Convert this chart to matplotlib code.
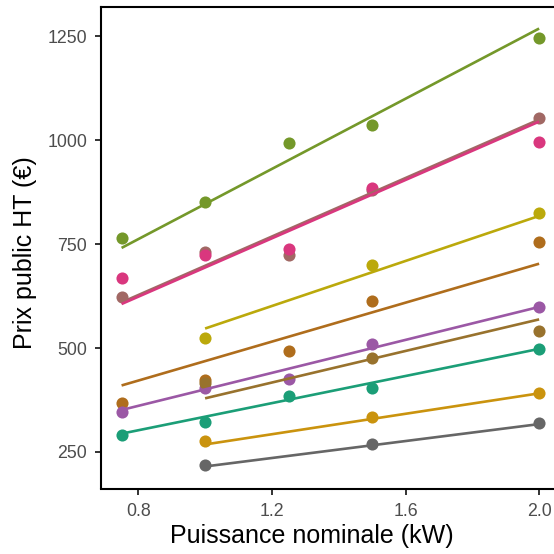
import matplotlib
matplotlib.use("Agg")
import matplotlib.pyplot as plt

plt.rcParams['font.family'] = ['Liberation Sans', 'DejaVu Sans']

# ---- data ----
series_names = ["S1", "S2", "S3", "S4", "S5", "S6", "S7", "S8", "S9", "S10"]
colors = ['#1B9E77', '#AF6D1C', '#A16864', '#9B58A5', '#D9377E',
          '#74982A', '#BBA90B', '#CA930E', '#98722D', '#666666']

x_full = [0.75, 1.0, 1.25, 1.5, 2.0]
x_short = [1.0, 1.5, 2.0]

s1_y = [291, 323, 384, 405, 497]
s2_y = [368, 422, 493, 614, 755]
s3_y = [624, 731, 723, 880, 1054]
s4_y = [345, 405, 426, 510, 599]
s5_y = [669, 725, 739, 884, 996]
s6_y = [765, 852, 993, 1038, 1246]
s7_y = [525, 700, 824]
s8_y = [276, 335, 393]
s9_y = [416, 476, 542]
s10_y = [219, 268, 319]

# fitted values at the two ends of each line
s1_fit = [294, 498]
s2_fit = [410, 703]
s3_fit = [610, 1050]
s4_fit = [351, 599]
s5_fit = [606, 1045]
s6_fit = [741, 1269]
s7_fit = [547, 818]
s8_fit = [268, 391]
s9_fit = [379, 569]
s10_fit = [215, 317]

xs = [x_full] * 6 + [x_short] * 4
ys = [s1_y, s2_y, s3_y, s4_y, s5_y, s6_y, s7_y, s8_y, s9_y, s10_y]
fits = [s1_fit, s2_fit, s3_fit, s4_fit, s5_fit, s6_fit, s7_fit, s8_fit, s9_fit, s10_fit]

x_ticks = [0.8, 1.2, 1.6, 2.0]
x_tick_labels = ["0.8", "1.2", "1.6", "2.0"]
y_ticks = [250, 500, 750, 1000, 1250]
y_tick_labels = ["250", "500", "750", "1000", "1250"]

# ---- figure ----
W = H = 554
fig = plt.figure(figsize=(W / 100, H / 100), dpi=100)
left_px, right_px, top_px, bottom_px = 100.7, 560.0, 6.5, 488.5
ax = fig.add_axes([left_px / W, 1 - bottom_px / H,
                   (right_px - left_px) / W, (bottom_px - top_px) / H])

for i in range(len(series_names)):
    ax.scatter(xs[i], ys[i], s=76, color=colors[i], linewidths=0, zorder=2 + i * 0.01)
for i in range(len(series_names)):
    ax.plot([xs[i][0], xs[i][-1]], fits[i], color=colors[i], lw=1.9,
            solid_capstyle='butt', zorder=3 + i * 0.01)

ax.set_xlim(0.6875, 2.0625)
ax.set_ylim(162, 1322)
ax.set_xticks(x_ticks)
ax.set_xticklabels(x_tick_labels)
ax.set_yticks(y_ticks)
ax.set_yticklabels(y_tick_labels)

for sp in ['left', 'bottom', 'top']:
    ax.spines[sp].set_linewidth(1.5)
    ax.spines[sp].set_color('black')
ax.spines['right'].set_visible(False)

ax.tick_params(axis='both', length=4.3, width=1.4, color='#333333',
               labelcolor='#4D4D4D', labelsize=12.8)
ax.tick_params(axis='x', pad=6)
ax.tick_params(axis='y', pad=5.5)

ax.set_xlabel("Puissance nominale (kW)", fontsize=18, color='black', va='top')
ax.set_ylabel("Prix public HT (€)", fontsize=18, color='black')
ax.xaxis.set_label_coords((311.5 - left_px) / (right_px - left_px),
                          -(524.5 - bottom_px) / (bottom_px - top_px))
ax.yaxis.set_label_coords(-(100.7 - 37.0) / (right_px - left_px), 0.49)

fig.savefig("out.png", dpi=100)
